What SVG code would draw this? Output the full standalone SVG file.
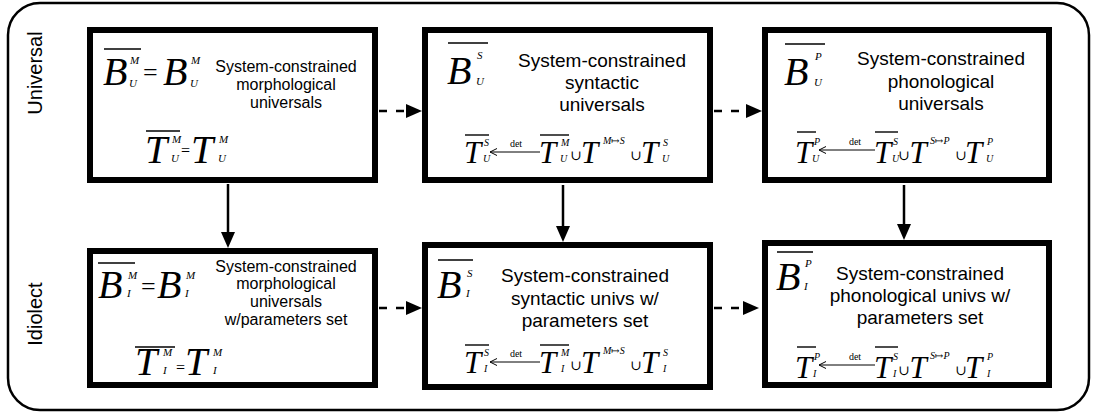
<svg xmlns="http://www.w3.org/2000/svg" width="1093" height="414" viewBox="0 0 1093 414">
<style>
.box{fill:#fff;stroke:#000;stroke-width:6}
.lbl{font-family:"Liberation Sans",Arial,sans-serif;fill:#000;text-anchor:middle}
.s16{font-size:16px}
.s19{font-size:19px}
.m{font-family:"Liberation Serif","Times New Roman","DejaVu Serif",serif;font-style:italic;fill:#000}
.big{font-size:40px}
.mid{font-size:31px}
.sc{font-size:11px}
.sc2{font-size:10px}
.rm{font-family:"Liberation Serif","Times New Roman","DejaVu Serif",serif;fill:#000}
.cup{font-size:14px}
.ov{stroke:#000;stroke-width:1.4}
.det{font-size:10px;text-anchor:middle}
.fa{fill:none;stroke:#000;stroke-width:1}
.conn{stroke:#000;stroke-width:2.5;fill:none}
.dash{stroke-dasharray:8 9}
</style>
<defs>
<marker id="ah" markerUnits="userSpaceOnUse" markerWidth="17" markerHeight="15" refX="0" refY="7" orient="auto">
<path d="M0,0 L16,7 L0,14 z" fill="#000"/>
</marker>
</defs>

<rect x="8" y="3" width="1081" height="407" rx="32" ry="32" fill="#fff" stroke="#000" stroke-width="2.5"/>

<text class="lbl" font-size="20" transform="translate(42,73) rotate(-90)">Universal</text>
<text class="lbl" font-size="20" transform="translate(42,314) rotate(-90)">Idiolect</text>

<g id="connectors">
<line class="conn" x1="228" y1="184" x2="228" y2="232" marker-end="url(#ah)"/>
<line class="conn" x1="563" y1="185" x2="563" y2="226" marker-end="url(#ah)"/>
<line class="conn" x1="904" y1="185" x2="904" y2="224" marker-end="url(#ah)"/>
<line class="conn dash" x1="379" y1="111" x2="406" y2="111" marker-end="url(#ah)"/>
<line class="conn dash" x1="714" y1="111" x2="746" y2="111" marker-end="url(#ah)"/>
<line class="conn dash" x1="379" y1="308" x2="406" y2="308" marker-end="url(#ah)"/>
<line class="conn dash" x1="714" y1="308" x2="743" y2="308" marker-end="url(#ah)"/>
</g>

<g id="node-univ-morph">
<rect class="box" x="90" y="30" width="285" height="150"/>
<line class="ov" x1="104" y1="49" x2="141" y2="49"/>
<text class="m big" x="103" y="85">B</text>
<text class="m sc" x="130" y="64">M</text>
<text class="m sc" x="129" y="87">U</text>
<text class="rm" font-size="26" x="143" y="81">=</text>
<text class="m big" x="163" y="85">B</text>
<text class="m sc" x="191" y="64">M</text>
<text class="m sc" x="190" y="87">U</text>
<text class="lbl s16" x="286" y="72">System-constrained</text>
<text class="lbl s16" x="286" y="90">morphological</text>
<text class="lbl s16" x="286" y="108">universals</text>
<line class="ov" x1="146" y1="131" x2="180" y2="131"/>
<text class="m big" x="145" y="163">T</text>
<text class="m sc" x="172" y="143">M</text>
<text class="m sc" x="171" y="162">U</text>
<text class="rm" font-size="16" x="181" y="156">=</text>
<text class="m big" x="191" y="163">T</text>
<text class="m sc" x="219" y="143">M</text>
<text class="m sc" x="218" y="162">U</text>
</g>

<g id="node-univ-synt">
<rect class="box" x="425" y="30" width="285" height="150"/>
<line class="ov" x1="448" y1="43" x2="488" y2="43"/>
<text class="m big" x="447" y="84">B</text>
<text class="m sc" x="477" y="59">S</text>
<text class="m sc" x="476" y="85">U</text>
<text class="lbl s19" x="602" y="67">System-constrained</text>
<text class="lbl s19" x="602" y="89">syntactic</text>
<text class="lbl s19" x="602" y="111">universals</text>
<line class="ov" x1="465" y1="135" x2="489" y2="135"/>
<text class="m mid" x="464" y="163">T</text>
<text class="m sc2" x="484" y="146">S</text>
<text class="m sc2" x="483" y="162">U</text>
<path class="fa" d="M497,148.5 L490,152 L497,155.5 M490,152 H540"/>
<text class="rm det" x="516" y="147">det</text>
<line class="ov" x1="540" y1="135" x2="569" y2="135"/>
<text class="m mid" x="539" y="163">T</text>
<text class="m sc2" x="561" y="146">M</text>
<text class="m sc2" x="560" y="162">U</text>
<text class="rm cup" x="570" y="160">∪</text>
<text class="m mid" x="581" y="163">T</text>
<text class="m sc2" x="603" y="144">M↦S</text>
<text class="rm cup" x="630" y="160">∪</text>
<text class="m mid" x="641" y="163">T</text>
<text class="m sc2" x="663" y="146">S</text>
<text class="m sc2" x="662" y="162">U</text>
</g>

<g id="node-univ-phon">
<rect class="box" x="765" y="30" width="284" height="150"/>
<line class="ov" x1="785" y1="44" x2="825" y2="44"/>
<text class="m big" x="784" y="85">B</text>
<text class="m sc" x="815" y="60">P</text>
<text class="m sc" x="814" y="86">U</text>
<text class="lbl s19" x="941" y="65">System-constrained</text>
<text class="lbl s19" x="941" y="88">phonological</text>
<text class="lbl s19" x="941" y="110">universals</text>
<line class="ov" x1="797" y1="132" x2="816" y2="132"/>
<text class="m mid" x="795" y="163">T</text>
<text class="m sc2" x="814" y="145">P</text>
<text class="m sc2" x="812" y="162">U</text>
<path class="fa" d="M826,146.5 L819,150 L826,153.5 M819,150 H875"/>
<text class="rm det" x="855" y="145">det</text>
<line class="ov" x1="875" y1="132" x2="898" y2="132"/>
<text class="m mid" x="874" y="163">T</text>
<text class="m sc2" x="893" y="145">S</text>
<text class="m sc2" x="892" y="162">U</text>
<text class="rm cup" x="898" y="160">∪</text>
<text class="m mid" x="909.5" y="163">T</text>
<text class="m sc2" x="930" y="144">S↦P</text>
<text class="rm cup" x="955" y="160">∪</text>
<text class="m mid" x="965" y="163">T</text>
<text class="m sc2" x="987" y="145">P</text>
<text class="m sc2" x="986" y="162">U</text>
</g>

<g id="node-idio-morph">
<rect class="box" x="90" y="251" width="285" height="134"/>
<line class="ov" x1="98" y1="263" x2="135" y2="263"/>
<text class="m big" x="98" y="298">B</text>
<text class="m sc" x="128" y="279">M</text>
<text class="m sc" x="127" y="297">I</text>
<text class="rm" font-size="26" x="141" y="295">=</text>
<text class="m big" x="157" y="298">B</text>
<text class="m sc" x="186" y="279">M</text>
<text class="m sc" x="185" y="297">I</text>
<text class="lbl s16" x="286" y="272">System-constrained</text>
<text class="lbl s16" x="286" y="289">morphological</text>
<text class="lbl s16" x="286" y="307">universals</text>
<text class="lbl s16" x="286" y="325">w/parameters set</text>
<line class="ov" x1="135" y1="347" x2="175" y2="347"/>
<text class="m big" x="135" y="375">T</text>
<text class="m sc" x="163" y="356">M</text>
<text class="m sc" x="163" y="374">I</text>
<text class="rm" font-size="16" x="176" y="373">=</text>
<text class="m big" x="185" y="375">T</text>
<text class="m sc" x="213" y="356">M</text>
<text class="m sc" x="213" y="374">I</text>
</g>

<g id="node-idio-synt">
<rect class="box" x="425" y="245" width="285" height="142"/>
<line class="ov" x1="438" y1="260" x2="473" y2="260"/>
<text class="m big" x="437" y="298">B</text>
<text class="m sc" x="467" y="277">S</text>
<text class="m sc" x="466" y="297">I</text>
<text class="lbl s19" x="585" y="282">System-constrained</text>
<text class="lbl s19" x="585" y="305">syntactic univs w/</text>
<text class="lbl s19" x="585" y="327">parameters set</text>
<line class="ov" x1="465" y1="345" x2="489" y2="345"/>
<text class="m mid" x="464" y="373">T</text>
<text class="m sc2" x="484" y="356">S</text>
<text class="m sc2" x="484" y="372">I</text>
<path class="fa" d="M497,358.5 L490,362 L497,365.5 M490,362 H540"/>
<text class="rm det" x="516" y="357">det</text>
<line class="ov" x1="540" y1="345" x2="569" y2="345"/>
<text class="m mid" x="539" y="373">T</text>
<text class="m sc2" x="561" y="356">M</text>
<text class="m sc2" x="561" y="372">I</text>
<text class="rm cup" x="570" y="370">∪</text>
<text class="m mid" x="581" y="373">T</text>
<text class="m sc2" x="603" y="354">M↦S</text>
<text class="rm cup" x="630" y="370">∪</text>
<text class="m mid" x="641" y="373">T</text>
<text class="m sc2" x="663" y="356">S</text>
<text class="m sc2" x="663" y="372">I</text>
</g>

<g id="node-idio-phon">
<rect class="box" x="765" y="243" width="284" height="142"/>
<line class="ov" x1="777" y1="252" x2="813" y2="252"/>
<text class="m big" x="776" y="290">B</text>
<text class="m sc" x="805" y="267">P</text>
<text class="m sc" x="804" y="290">I</text>
<text class="lbl s19" x="920" y="280">System-constrained</text>
<text class="lbl s19" x="920" y="302">phonological univs w/</text>
<text class="lbl s19" x="920" y="324">parameters set</text>
<line class="ov" x1="797" y1="347" x2="816" y2="347"/>
<text class="m mid" x="795" y="378">T</text>
<text class="m sc2" x="814" y="360">P</text>
<text class="m sc2" x="813" y="377">I</text>
<path class="fa" d="M826,361.5 L819,365 L826,368.5 M819,365 H875"/>
<text class="rm det" x="855" y="360">det</text>
<line class="ov" x1="875" y1="347" x2="898" y2="347"/>
<text class="m mid" x="874" y="378">T</text>
<text class="m sc2" x="893" y="360">S</text>
<text class="m sc2" x="893" y="377">I</text>
<text class="rm cup" x="898" y="375">∪</text>
<text class="m mid" x="909.5" y="378">T</text>
<text class="m sc2" x="930" y="359">S↦P</text>
<text class="rm cup" x="955" y="375">∪</text>
<text class="m mid" x="965" y="378">T</text>
<text class="m sc2" x="987" y="360">P</text>
<text class="m sc2" x="987" y="377">I</text>
</g>
</svg>
